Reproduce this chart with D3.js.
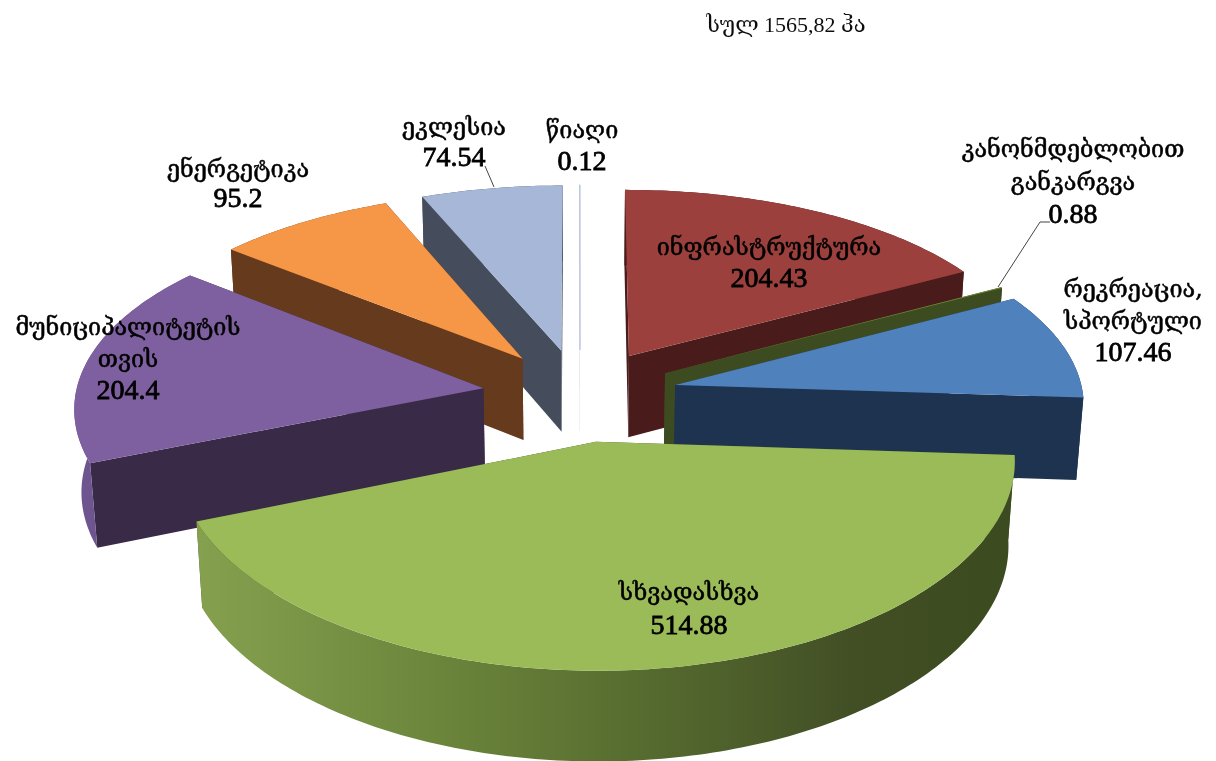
<!DOCTYPE html>
<html><head><meta charset="utf-8">
<script src="https://cdn.jsdelivr.net/npm/d3@7"></script>
<style>html,body{margin:0;padding:0;background:#fff}svg{display:block}</style>
</head><body>
<svg id="c" width="1216" height="761"></svg>
<script>
const categories = ["ინფრასტრუქტურა","კანონმდებლობით განკარგვა","რეკრეაცია, სპორტული","სხვადასხვა","მუნიციპალიტეტის თვის","ენერგეტიკა","ეკლესია","წიაღი"];
const values = [204.43,0.88,107.46,514.88,204.4,95.2,74.54,0.12];
const valueLabels = ["204.43","0.88","107.46","514.88","204.4","95.2","74.54","0.12"];
const labelLines = [["ინფრასტრუქტურა"],["კანონმდებლობით","განკარგვა"],["რეკრეაცია,","სპორტული"],["სხვადასხვა"],["მუნიციპალიტეტის","თვის"],["ენერგეტიკა"],["ეკლესია"],["წიაღი"]];
const topColors = ["#9b403d","#6f8a36","#4f81bd","#9bbb59","#7e60a0","#f59746","#a7b7d8","#b9c6e0"];
const sideColors = ["#4a1b1b","#3d4b20","#1e3350","#3d4b20","#392a47","#663a1c","#454d5c","#8a94a8"];
const rimColors = ["#4a1b1b","#3d4b20","#1e3350","url(#wall)","#6f5590","#663a1c","#454d5c","#8a94a8"];
const labelCentres = [[769,255,32],[1073,157,33],[1133,297,32],[689,600,34],[128,335,32],[238,177,30],[454,135,31],[582,138,32]];
const titleText = "სულ 1565,82 ჰა";

const svg = d3.select("#c");
const cam = {cx:580, cy:395, F:408, s:0.472, kx:0.09, ky:0.11, m:0.07, e:0.24, h:0.205};
const project = (x,y,z) => {
  const wx = 1 + cam.kx*y - cam.m*z, wy = 1 + cam.ky*y - cam.m*z;
  return [cam.cx + cam.F*x/wx, cam.cy - cam.F*(cam.s*y + z)/wy];
};
const line = d3.line();
const arcs = d3.pie().sort(null).value(d=>d)(values);

const defs = svg.append("defs");
const grad = defs.append("linearGradient").attr("id","wall").attr("gradientUnits","userSpaceOnUse")
  .attr("x1",195).attr("x2",1015).attr("y1",0).attr("y2",0);
[[0,"#85a14f"],[0.3,"#6b853b"],[0.55,"#566b2f"],[0.8,"#424f25"],[1,"#3c4a20"]].forEach(([o,c])=>
  grad.append("stop").attr("offset",o).attr("stop-color",c));
defs.append("filter").attr("id","soft").append("feGaussianBlur").attr("stdDeviation",0.4);

const slices = arcs.map((a,i)=>({a,i,mid:(a.startAngle+a.endAngle)/2}))
  .sort((p,q)=>Math.cos(q.mid)-Math.cos(p.mid));

slices.forEach(({a,i,mid})=>{
  const ox = cam.e*Math.sin(mid), oy = cam.e*Math.cos(mid);
  const pts = z => {
    const n = Math.max(2,Math.ceil((a.endAngle-a.startAngle)*60));
    return d3.range(n+1).map(j=>{
      const t = a.startAngle+(a.endAngle-a.startAngle)*j/n;
      return project(ox+Math.sin(t), oy+Math.cos(t), z);
    });
  };
  const top = pts(0), bot = pts(-cam.h);
  const A0 = project(ox,oy,0), A1 = project(ox,oy,-cam.h);
  const g = svg.append("g");
  [[top[0],bot[0]],[top[top.length-1],bot[bot.length-1]]].forEach(([t,b])=>{
    g.append("path").attr("d",line([A0,t,b,A1])+"Z").attr("fill",sideColors[i]);
  });
  g.append("path").attr("d",line(top.concat(bot.slice().reverse()))+"Z").attr("fill",rimColors[i]);
  const face = g.append("path").attr("d",line([A0].concat(top))+"Z").attr("fill",topColors[i]);
  if (i===7) face.attr("stroke",topColors[i]).attr("stroke-width",1);
});

const leaders = [[[1050,222],[1040,222],[998,287]],[[485,166],[494,187]]];
leaders.forEach(l=>svg.append("path").attr("d",line(l)).attr("fill","none").attr("stroke","#444").attr("stroke-width",1));

const labelFont = "'DejaVu Serif','DejaVu Sans',serif";
const labels = svg.append("g").attr("filter","url(#soft)");
categories.forEach((c,i)=>{
  const [x,y,dy] = labelCentres[i];
  const g = labels.append("g").attr("text-anchor","middle").attr("fill","#000").attr("stroke","#000");
  labelLines[i].forEach((t,j)=>{
    g.append("text").attr("x",x).attr("y",y+j*dy).attr("stroke-width",0.5)
      .attr("font-family",labelFont).attr("font-size",23.4).text(t);
  });
  g.append("text").attr("x",x).attr("y",y+labelLines[i].length*dy).attr("stroke-width",0.8)
    .attr("font-family","'Liberation Serif',serif").attr("font-size",28).text(valueLabels[i]);
});
svg.append("text").attr("x",786).attr("y",32).attr("text-anchor","middle").attr("filter","url(#soft)")
  .attr("font-family","'Liberation Serif','DejaVu Serif',serif").attr("font-size",22).attr("fill","#111").text(titleText);
</script>
</body></html>
